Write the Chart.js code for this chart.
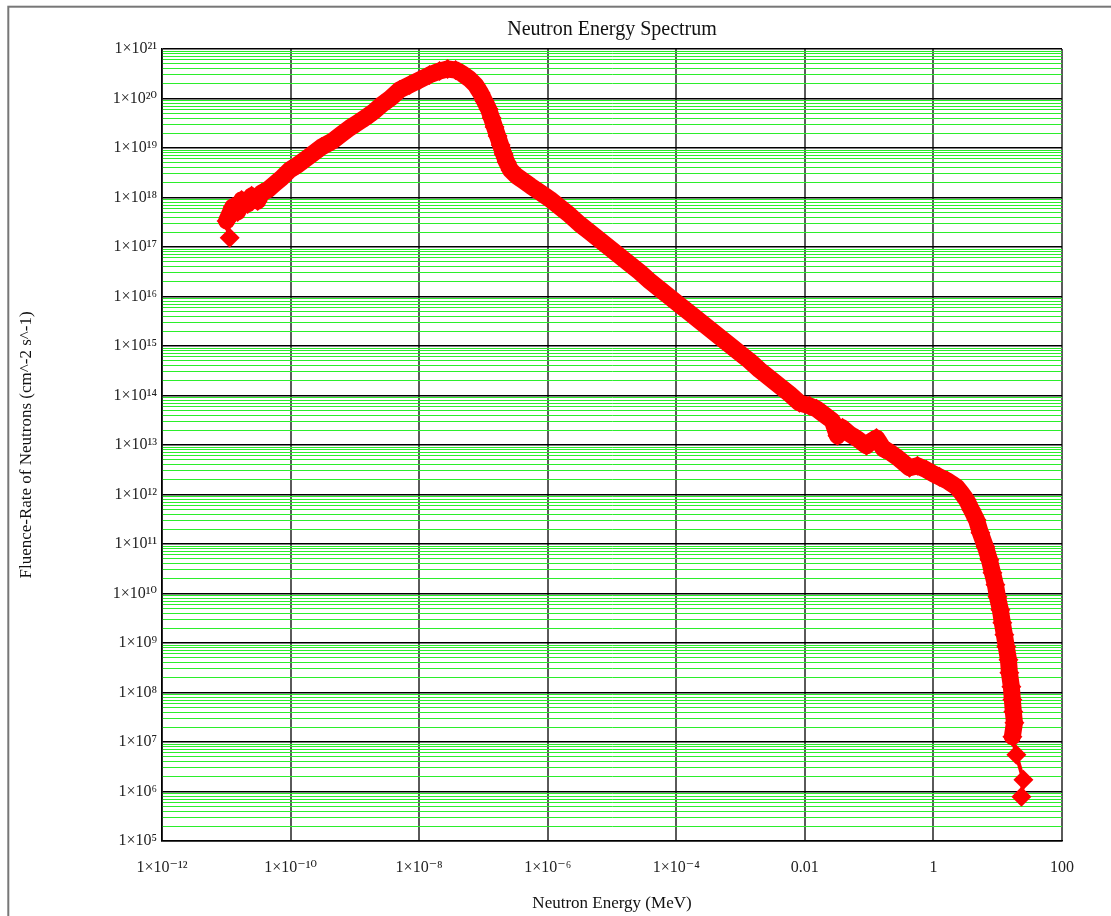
<!DOCTYPE html>
<html>
<head>
<meta charset="utf-8">
<script src="https://cdn.jsdelivr.net/npm/chart.js@4.4.1/dist/chart.umd.min.js"></script>
<style>
  html, body { margin: 0; padding: 0; background: #ffffff; }
  #wrap { width: 1111px; height: 916px; }
</style>
</head>
<body>
<div id="wrap"><canvas id="c" width="1111" height="916"></canvas></div>
<script>
// ---- Data (energy in MeV, fluence rate in cm^-2 s^-1) ----
const energy = [
  1.13e-11, 1.01e-11, 1.26e-11, 1.50e-11, 1.73e-11, 2.15e-11, 2.48e-11, 3.08e-11, 3.55e-11, 4.40e-11,
  5.65e-11, 7.26e-11, 9.68e-11, 1.29e-10, 1.72e-10, 2.29e-10, 3.04e-10, 4.51e-10, 6.23e-10, 8.29e-10,
  1.10e-9, 1.52e-9, 2.03e-9, 2.70e-9, 3.60e-9, 4.97e-9, 7.11e-9, 1.02e-8, 1.45e-8, 2.08e-8,
  2.77e-8, 3.69e-8, 4.74e-8, 6.09e-8, 7.55e-8, 9.03e-8, 1.04e-7, 1.20e-7, 1.34e-7, 1.49e-7,
  1.66e-7, 1.85e-7, 2.06e-7, 2.29e-7, 2.64e-7, 3.28e-7, 4.21e-7, 5.41e-7, 7.47e-7, 1.07e-6,
  1.53e-6, 2.19e-6, 3.13e-6, 4.48e-6, 6.40e-6, 9.16e-6, 1.31e-5, 1.87e-5, 2.68e-5, 3.84e-5,
  5.49e-5, 7.85e-5, 1.12e-4, 1.61e-4, 2.30e-4, 3.29e-4, 4.70e-4, 6.73e-4, 9.62e-4, 1.38e-3,
  1.97e-3, 2.82e-3, 4.03e-3, 5.77e-3, 8.25e-3, 1.18e-2, 1.52e-2, 2.02e-2, 2.68e-2, 3.21e-2,
  3.85e-2, 4.94e-2, 6.58e-2, 9.08e-2, 0.109, 0.130, 0.167, 0.207, 0.266, 0.330,
  0.424, 0.564, 0.778, 1.00, 1.24, 1.65, 2.28, 2.73, 3.26, 3.90,
  4.67, 5.38, 6.44, 7.43, 8.28, 9.21, 9.90, 11.0, 11.8, 12.7,
  13.6, 14.7, 15.2, 16.3, 16.9, 17.5, 18.2, 16.9, 19.5, 25.1,
  23.4
];
const fluenceRate = [
  1.53e17, 3.36e17, 6.45e17, 5.11e17, 8.93e17, 7.41e17, 1.08e18, 8.52e17, 1.24e18, 1.42e18,
  1.88e18, 2.48e18, 3.60e18, 4.55e18, 6.01e18, 7.94e18, 1.05e19, 1.39e19, 1.92e19, 2.54e19,
  3.21e19, 4.24e19, 5.60e19, 7.75e19, 1.02e20, 1.49e20, 1.88e20, 2.37e20, 2.99e20, 3.59e20,
  3.95e20, 3.77e20, 3.13e20, 2.48e20, 1.88e20, 1.29e20, 8.91e19, 6.14e19, 4.04e19, 2.66e19,
  1.75e19, 1.15e19, 7.58e18, 5.22e18, 3.60e18, 2.72e18, 2.16e18, 1.71e18, 1.29e18, 9.35e17,
  6.45e17, 4.44e17, 2.92e17, 2.02e17, 1.39e17, 9.58e16, 6.61e16, 4.55e16, 3.14e16, 2.07e16,
  1.42e16, 9.82e15, 6.77e15, 4.67e15, 3.22e15, 2.22e15, 1.53e15, 1.05e15, 7.26e14, 5.01e14,
  3.29e14, 2.27e14, 1.57e14, 1.08e14, 7.10e13, 6.18e13, 5.37e13, 4.06e13, 3.08e13, 1.53e13,
  2.22e13, 1.68e13, 1.33e13, 9.62e12, 1.21e13, 1.39e13, 8.37e12, 7.28e12, 5.77e12, 4.57e12,
  3.46e12, 3.80e12, 3.15e12, 2.62e12, 2.28e12, 1.89e12, 1.43e12, 1.08e12, 7.81e11, 4.91e11,
  3.08e11, 1.68e11, 8.78e10, 4.80e10, 2.62e10, 1.50e10, 8.59e9, 4.69e9, 2.56e9, 1.47e9,
  8.39e8, 4.59e8, 2.51e8, 1.31e8, 7.14e7, 4.09e7, 2.45e7, 1.28e7, 5.53e6, 1.73e6,
  7.85e5
];

// ---- Tick values and labels ----
const xTickValues = [1e-12, 1e-10, 1e-8, 1e-6, 1e-4, 1e-2, 1, 100];
const xTickLabels = ['1×10⁻¹²', '1×10⁻¹⁰', '1×10⁻⁸', '1×10⁻⁶', '1×10⁻⁴', '0.01', '1', '100'];
const yDecadeExponents = [5, 6, 7, 8, 9, 10, 11, 12, 13, 14, 15, 16, 17, 18, 19, 20, 21];
const yTickLabels = ['1×10⁵', '1×10⁶', '1×10⁷', '1×10⁸', '1×10⁹', '1×10¹⁰', '1×10¹¹', '1×10¹²', '1×10¹³',
  '1×10¹⁴', '1×10¹⁵', '1×10¹⁶', '1×10¹⁷', '1×10¹⁸', '1×10¹⁹', '1×10²⁰', '1×10²¹'];
const yMinorMultipliers = [2, 3, 4, 5, 6, 7, 8, 9];

const chartTitle = 'Neutron Energy Spectrum';
const xTitle = 'Neutron Energy (MeV)';
const yTitle = 'Fluence-Rate of Neutrons (cm^-2 s^-1)';

const points = energy.map((e, i) => ({ x: e, y: fluenceRate[i] }));

const SERIF = "'Liberation Serif', 'Times New Roman', 'DejaVu Serif', serif";
const RED = '#ff0000';

function isDecade(v) {
  const l = Math.log10(v);
  return Math.abs(l - Math.round(l)) < 1e-6;
}

const framePlugin = {
  id: 'frame',
  beforeDraw(chart) {
    const ctx = chart.ctx;
    ctx.save();
    ctx.fillStyle = '#ffffff';
    ctx.fillRect(0, 0, chart.width, chart.height);
    ctx.strokeStyle = '#777777';
    ctx.lineWidth = 2;
    ctx.strokeRect(8.3, 6.7, 1300, 1200);
    ctx.restore();
  }
};

// the dense markers of the reference merge into a solid band except at the two ends
function bandWidth(ctx) {
  const i = ctx.p0DataIndex;
  if (i === 0) return 5;
  if (i >= 117) return 4;
  return 17;
}

new Chart(document.getElementById('c'), {
  type: 'scatter',
  data: {
    datasets: [{
      label: 'Fluence rate',
      data: points,
      pointStyle: 'rectRot',
      pointRadius: 10,
      pointHoverRadius: 10,
      backgroundColor: RED,
      borderColor: RED,
      borderWidth: 17,
      pointBorderWidth: 0,
      showLine: true,
      tension: 0,
      borderJoinStyle: 'round',
      borderCapStyle: 'round',
      segment: { borderWidth: bandWidth }
    }]
  },
  options: {
    responsive: false,
    animation: false,
    events: [],
    layout: { padding: { left: 0, right: 49, top: 0, bottom: 0 } },
    plugins: {
      legend: { display: false },
      tooltip: { enabled: false },
      title: {
        display: true,
        fullSize: false,
        text: chartTitle,
        color: '#111111',
        font: { family: SERIF, size: 20, weight: 'normal', lineHeight: 1.2 },
        padding: { top: 18, bottom: 7 }
      }
    },
    scales: {
      x: {
        type: 'logarithmic',
        min: 1e-12,
        max: 100,
        afterBuildTicks: (scale) => { scale.ticks = xTickValues.map(v => ({ value: v })); },
        afterFit: (scale) => { scale.height = 75; },
        ticks: {
          autoSkip: false,
          maxRotation: 0,
          padding: 17,
          color: '#222222',
          font: { family: SERIF, size: 16 },
          callback: (value, index) => xTickLabels[index]
        },
        grid: {
          drawTicks: false,
          color: '#5a5a5a',
          lineWidth: 2
        },
        border: { display: true, color: '#000000', width: 1.5 },
        title: {
          display: true,
          text: xTitle,
          color: '#111111',
          font: { family: SERIF, size: 17, lineHeight: 1.2 },
          padding: { top: 0, bottom: 2 }
        }
      },
      y: {
        type: 'logarithmic',
        min: 1e5,
        max: 1e21,
        afterBuildTicks: (scale) => {
          const t = [];
          yDecadeExponents.forEach((e, i) => {
            t.push({ value: Math.pow(10, e) });
            if (i < yDecadeExponents.length - 1) {
              yMinorMultipliers.forEach(m => t.push({ value: m * Math.pow(10, e) }));
            }
          });
          scale.ticks = t;
        },
        afterFit: (scale) => { scale.width = 162; },
        ticks: {
          autoSkip: false,
          padding: 5,
          color: '#222222',
          font: { family: SERIF, size: 16 },
          callback: (value) => {
            if (!isDecade(value)) return '';
            const e = Math.round(Math.log10(value));
            return yTickLabels[yDecadeExponents.indexOf(e)];
          }
        },
        grid: {
          drawTicks: false,
          color: (ctx) => (ctx.tick && isDecade(ctx.tick.value)) ? '#000000' : '#2bee2b',
          lineWidth: (ctx) => (ctx.tick && isDecade(ctx.tick.value)) ? 1.5 : 1
        },
        border: { display: true, color: '#000000', width: 1.5 },
        title: {
          display: true,
          text: yTitle,
          color: '#111111',
          font: { family: SERIF, size: 17, lineHeight: 1.2 },
          padding: { top: 16, bottom: 0 }
        }
      }
    }
  },
  plugins: [framePlugin]
});
</script>
</body>
</html>
